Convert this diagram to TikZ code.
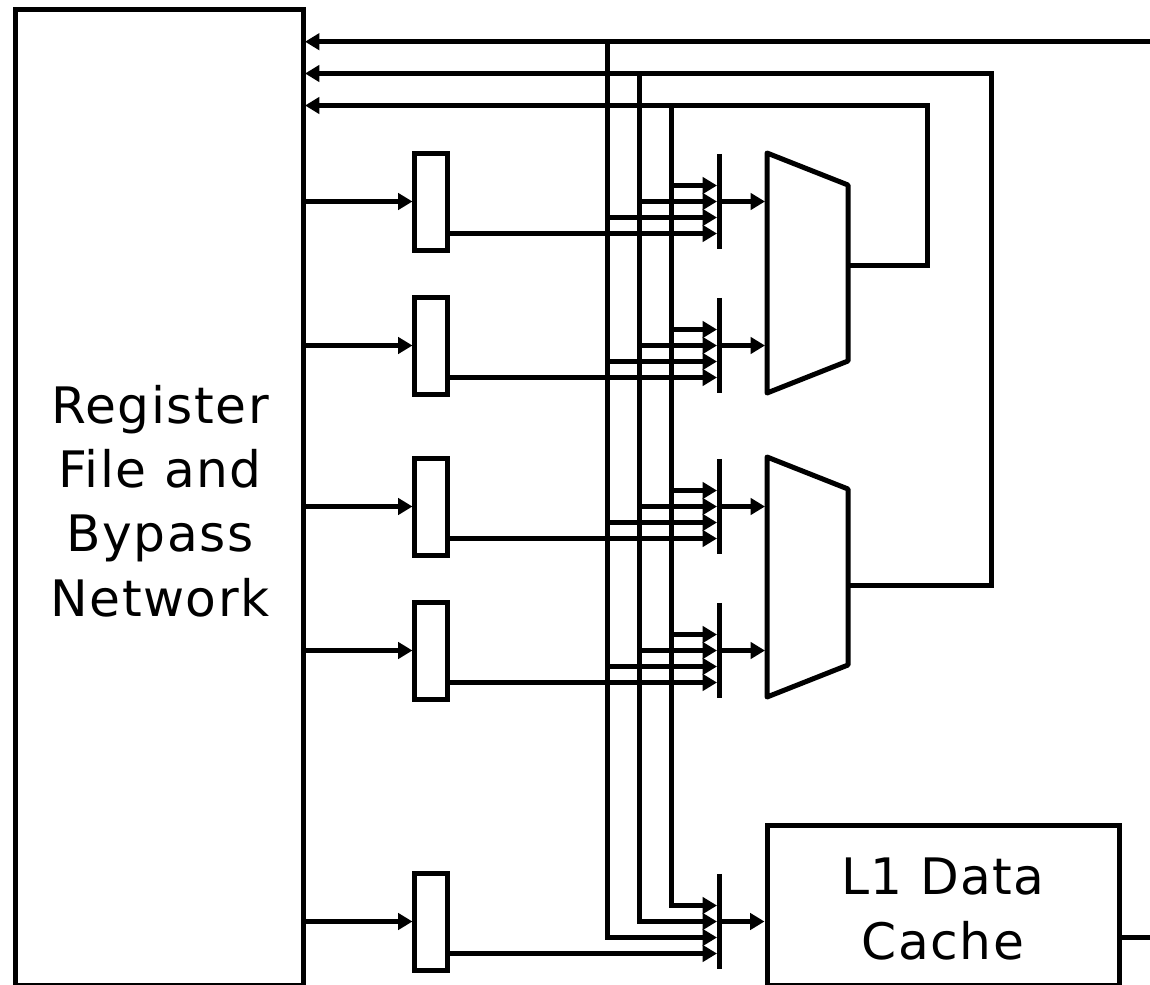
\documentclass[tikz,border=0pt]{standalone}
\usepackage{fontspec}
\setmainfont[LetterSpace=3]{DejaVu Sans}
\usetikzlibrary{arrows.meta}
\tikzset{
  wire/.style={line width=3.75pt,line join=miter,line cap=butt},
  arr/.style={wire,-{Triangle[length=10.8pt,width=12.2pt,sharp]}},
  blockbox/.style={draw,line width=3.75pt,inner sep=0pt},
  regbox/.style={blockbox,minimum width=24.4pt,minimum height=72.75pt},
  labeltext/.style={align=center,font=\fontsize{37.7pt}{48.2pt}\selectfont}
}
\begin{document}
\begin{tikzpicture}[x=0.75pt,y=-0.75pt]
\useasboundingbox (0,0) rectangle (1150,985);
\fill[white] (0,0) rectangle (1150,985);
% main blocks
\node[blockbox,minimum width=216pt,minimum height=731.6pt] (rf) at (159,497.7) {};
\node[labeltext] (rflabel) at (160,501) {Register\\File and\\Bypass\\Network};
\node[blockbox,minimum width=264pt,minimum height=119.85pt] (cache) at (943,905.6) {};
\node[labeltext] (cachelabel) at (943,909) {L1 Data\\Cache};
% ALUs
\coordinate (alua1) at (767,153); \coordinate (alua2) at (848,185);
\coordinate (alua3) at (848,361); \coordinate (alua4) at (767,393);
\draw[wire,line join=round] (alua1) -- (alua2) -- (alua3) -- (alua4) -- cycle;
\coordinate (alub1) at (767,457); \coordinate (alub2) at (848,489);
\coordinate (alub3) at (848,665); \coordinate (alub4) at (767,697);
\draw[wire,line join=round] (alub1) -- (alub2) -- (alub3) -- (alub4) -- cycle;
\coordinate (alutip) at (765,0);
% bus points
\coordinate (rftopa) at (305,41.7);
\coordinate (rftopb) at (305,73.5);
\coordinate (rftopc) at (305,105.5);
\coordinate (busa) at (607,41.7);
\coordinate (busb) at (639,73.5);
\coordinate (busc) at (671,105.5);
\coordinate (exta) at (1150,41.7);
\coordinate (cornerb) at (991,73.5);
\coordinate (cornerc) at (927,105.5);
\coordinate (outa) at (848,265.5);
\coordinate (outb) at (848,585.5);
\coordinate (extc) at (1150,937.5);
% register rows
\foreach \n/\cy in {1/201.5,2/345.5,3/506.5,4/650.5,5/921.5}{
  \node[regbox] (reg\n) at (431.25,\cy) {};
  \coordinate (bar\n t) at (719.5,\cy-47.7);
  \coordinate (bar\n b) at (719.5,\cy+47.7);
  \coordinate (bar\n) at (719.5,\cy);
  \coordinate (tip\n a) at (717,\cy-16);
  \coordinate (tip\n b) at (717,\cy);
  \coordinate (tip\n c) at (717,\cy+16);
  \coordinate (tip\n d) at (717,\cy+32);
  \coordinate (regout\n) at (447,\cy+32);
  \draw[wire] (bar\n t) -- (bar\n b);
  \draw[arr] (rf.east |- reg\n) -- (reg\n.west);
  \draw[arr] (regout\n) -- (tip\n d);
}
\foreach \n in {1,2,3,4}{
  \draw[arr] (busc |- tip\n a) -- (tip\n a);
  \draw[arr] (busb |- tip\n b) -- (tip\n b);
  \draw[arr] (busa |- tip\n c) -- (tip\n c);
  \draw[arr] (bar\n) -- (alutip |- bar\n);
}
\draw[arr] (bar5) -- (cache.west |- bar5);
% buses
\draw[arr] (exta) -- (rftopa);
\draw[arr] (outb) -| (cornerb) -- (rftopb);
\draw[arr] (outa) -| (cornerc) -- (rftopc);
\draw[arr] (busa) |- (tip5c);
\draw[arr] (busb) |- (tip5b);
\draw[arr] (busc) |- (tip5a);
\draw[wire] (cache.east |- extc) -- (extc);
\end{tikzpicture}
\end{document}
